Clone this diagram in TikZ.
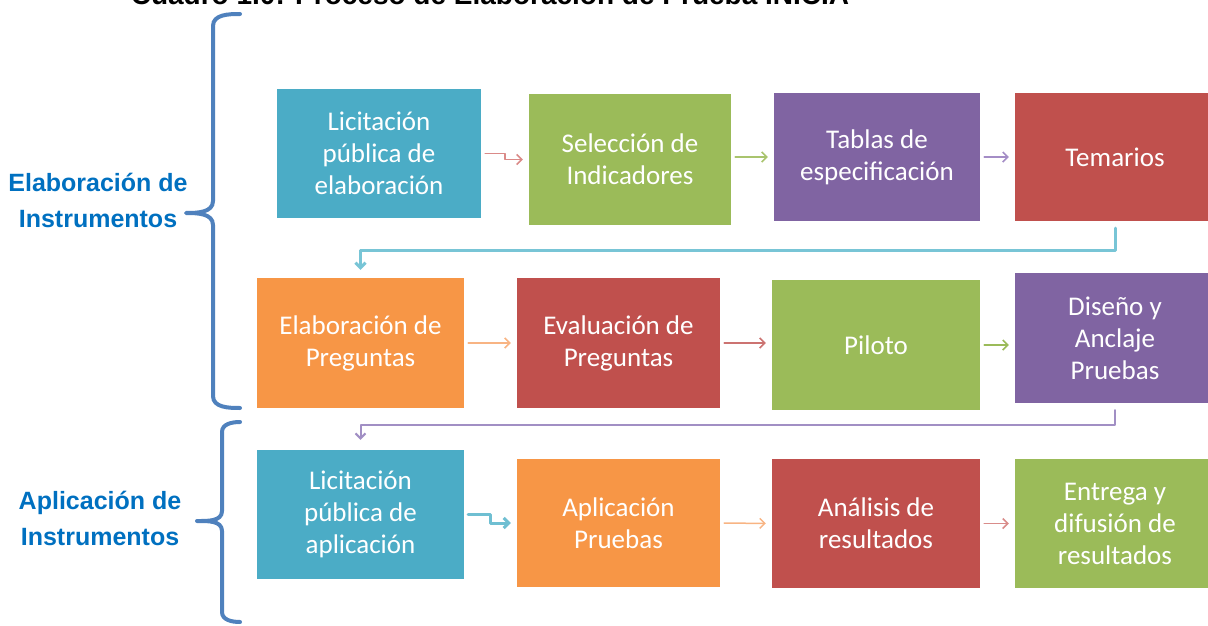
\documentclass[tikz,border=0pt]{standalone}
\usepackage{fontspec}
\usetikzlibrary{arrows.meta}
\newfontfamily\boxfont{Carlito}
\newfontfamily\sidefont{Liberation Sans}
\definecolor{cteal}{HTML}{4BACC6}
\definecolor{cgreen}{HTML}{9BBB59}
\definecolor{cpurple}{HTML}{8064A2}
\definecolor{cred}{HTML}{C0504D}
\definecolor{corange}{HTML}{F79646}
\definecolor{cbrace}{HTML}{4F81BD}
\definecolor{cside}{HTML}{0070C0}
\begin{document}
\begin{tikzpicture}[x=1pt, y=-1pt, line cap=round, line join=round, >={Straight Barb[length=5pt,width=10pt]}]
	\tikzset{box/.style={rectangle, inner sep=0pt, text=white, align=center, font=\boxfont\fontsize{27}{32}\selectfont},
		side/.style={align=center, text=cside, font=\sidefont\bfseries\fontsize{25}{36}\selectfont},
		arr/.style={->, line width=1.5pt, shorten <=4pt, shorten >=6pt},
		brace/.style={cbrace, line width=4pt}}
	\clip (0,0) rectangle (1208,626);
	\node[anchor=base, font=\sidefont\bfseries\fontsize{28}{30}\selectfont] (title) at (490,5) {Cuadro 1.0: Proceso de Elaboración de Prueba INICIA};
	\node[box, fill=cteal, minimum width=204, minimum height=129] (lpe) at (379,153.5) {Licitación\\pública de\\elaboración};
	\node[box, fill=cgreen, minimum width=202, minimum height=131] (sel) at (630,159.5) {Selección de\\Indicadores};
	\node[box, fill=cpurple, minimum width=206, minimum height=128] (tab) at (877,157) {Tablas de\\especificación};
	\node[box, fill=cred, minimum width=200, minimum height=128] (tem) at (1115,157) {Temarios};
	\node[box, fill=corange, minimum width=207, minimum height=130] (elp) at (360.5,343) {Elaboración de\\Preguntas};
	\node[box, fill=cred, minimum width=203, minimum height=130] (evp) at (618.5,343) {Evaluación de\\Preguntas};
	\node[box, fill=cgreen, minimum width=208, minimum height=130] (pil) at (876,345) {Piloto};
	\node[box, fill=cpurple, minimum width=200, minimum height=130] (dis) at (1115,338) {Diseño y\\Anclaje\\Pruebas};
	\node[box, fill=cteal, minimum width=207, minimum height=129] (lpa) at (360.5,514.5) {Licitación\\pública de\\aplicación};
	\node[box, fill=corange, minimum width=203, minimum height=128] (apl) at (618.5,523) {Aplicación\\Pruebas};
	\node[box, fill=cred, minimum width=208, minimum height=129] (ana) at (876,523.5) {Análisis de\\resultados};
	\node[box, fill=cgreen, minimum width=200, minimum height=129] (ent) at (1115,523.5) {Entrega y\\difusión de\\resultados};
	\node[side] (elab) at (98,200) {Elaboración de\\Instrumentos};
	\node[side] (apli) at (100,518) {Aplicación de\\Instrumentos};
	\draw[arr, draw={rgb,255:red,218;green,138;blue,136}] (lpe.east) -- ++(24,0) |- (sel.west);
	\draw[arr, draw={rgb,255:red,169;green,196;blue,110}] (tab.west -| sel.east) -- (tab.west);
	\draw[arr, draw={rgb,255:red,164;green,141;blue,198}] (tab.east) -- (tem.west);
	\draw[arr, draw={rgb,255:red,248;green,180;blue,131}] (elp.east) -- (evp.west);
	\draw[arr, draw={rgb,255:red,204;green,115;blue,113}] (evp.east) -- (evp.east -| pil.west);
	\draw[arr, draw=cgreen] (pil.east) -- (pil.east -| dis.west);
	\draw[arr, draw={rgb,255:red,111;green,191;blue,210}, line width=3pt] (lpa.east) -- ++(26,0) |- (apl.west);
	\draw[arr, draw={rgb,255:red,248;green,180;blue,131}] (apl.east) -- (ana.west);
	\draw[arr, draw={rgb,255:red,217;green,140;blue,138}] (ana.east) -- (ent.west);
	\draw[->, draw={rgb,255:red,120;green,197;blue,214}, line width=3pt, shorten <=7pt, shorten >=8pt] (tem.south) -- ++(0,29) -| (elp.north);
	\draw[->, draw={rgb,255:red,161;green,143;blue,196}, line width=2pt, shorten <=7pt, shorten >=10pt] (dis.south) -- ++(0,22) -| (lpa.north);
	\draw[brace] (240,14) to[out=180,in=90] (213,26) -- (213,201) to[out=-90,in=0] (186,213) to[out=0,in=90] (213,225) -- (213,396) to[out=-90,in=180] (240,408);
	\draw[brace] (240,422) to[out=180,in=90] (222,432) -- (222,511) to[out=-90,in=0] (197,521) to[out=0,in=90] (222,531) -- (222,612) to[out=-90,in=180] (240,622);
\end{tikzpicture}
\end{document}
